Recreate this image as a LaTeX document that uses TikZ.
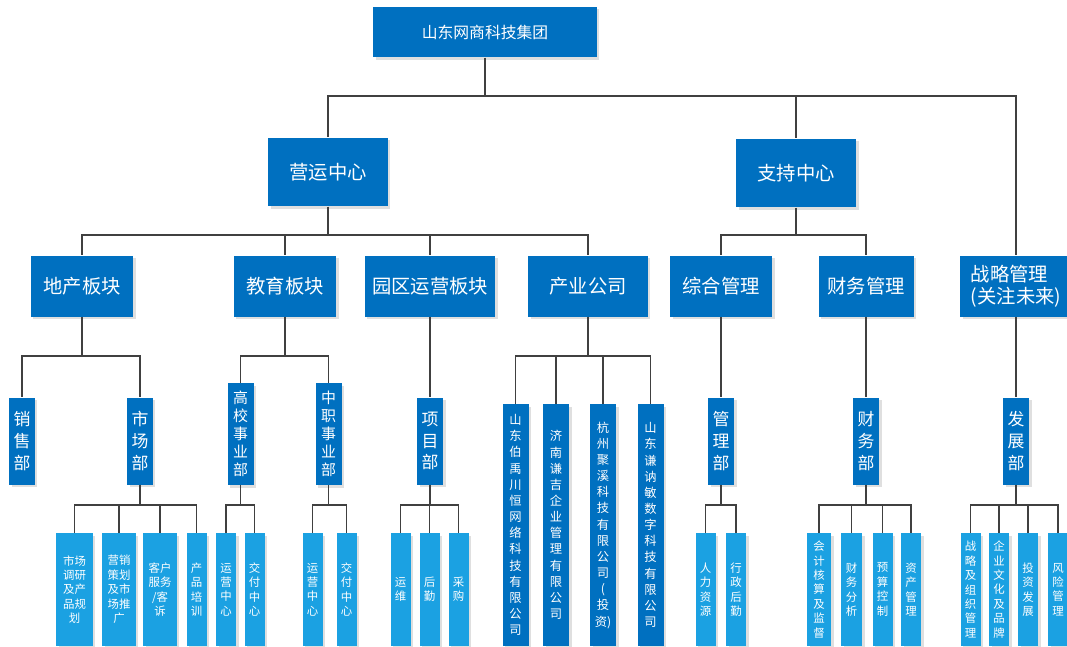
\documentclass[tikz,border=0pt]{standalone}
\usepackage{fontspec}
\setmainfont{Noto Sans CJK SC}
\usetikzlibrary{shadows}
\begin{document}
\begin{tikzpicture}[x=0.02cm, y=-0.02cm]

\definecolor{dcolor}{HTML}{0070C0}
\definecolor{lcolor}{HTML}{1BA1E2}
\definecolor{wcolor}{HTML}{404040}

\tikzstyle{conn}=[line width=0.7pt, color=wcolor]
\tikzstyle{orgbox}=[fill=dcolor, text=white, inner sep=0pt, align=center,
    drop shadow={opacity=0.25, shadow xshift=0.05cm, shadow yshift=-0.05cm}]
\tikzstyle{topbox}=[orgbox, minimum width=4.48cm, minimum height=1.02cm, font=\fontsize{9}{11}\selectfont]
\tikzstyle{centrebox}=[orgbox, minimum width=2.4cm, minimum height=1.38cm, font=\fontsize{11}{13}\selectfont]
\tikzstyle{segbox}=[orgbox, minimum height=1.22cm, font=\fontsize{11}{12.3}\selectfont]
\tikzstyle{deptbox}=[orgbox, minimum width=0.52cm, minimum height=1.74cm, font=\fontsize{9.6}{12.3}\selectfont]
\tikzstyle{unitbox}=[orgbox, minimum width=0.52cm, minimum height=2.04cm, font=\fontsize{8.5}{10.2}\selectfont]
\tikzstyle{firmbox}=[orgbox, minimum width=0.52cm, minimum height=4.84cm, font=\fontsize{7}{9.2}\selectfont]
\tikzstyle{leafbox}=[orgbox, fill=lcolor, minimum width=0.4cm, minimum height=2.26cm, font=\fontsize{6.5}{8.2}\selectfont]

\useasboundingbox (0,0) rectangle (1067,646);
\clip (0,0) rectangle (1067,646);

% bars
\coordinate (b0) at (0,96);
\coordinate (b1) at (0,235);
\coordinate (b2) at (0,356);
\coordinate (b3) at (0,505);

% group and centres
\node[topbox] (grp) at (485,32) {山东网商科技集团};
\node[centrebox] (yy) at (328,172) {营运中心};
\node[centrebox] (zc) at (796,173) {支持中心};

% segments
\node[segbox, minimum width=2.06cm] (dc) at (82,286) {地产板块};
\node[segbox, minimum width=2.06cm] (jy) at (285,286) {教育板块};
\node[segbox, minimum width=2.62cm] (yq) at (430,286) {园区运营板块};
\node[segbox, minimum width=2.4cm] (cy) at (588,286) {产业公司};
\node[segbox, minimum width=2.04cm] (zh) at (721,286) {综合管理};
\node[segbox, minimum width=1.9cm] (cw) at (866,286) {财务管理};
\node[segbox, minimum width=2.24cm, align=left] (zl) at (1016,286) {战略管理\\(关注未来)};

% departments
\node[deptbox] (xs) at (22,441) {销\\售\\部};
\node[deptbox] (sc) at (140,441) {市\\场\\部};
\node[unitbox] (gx) at (240.5,434) {高\\校\\事\\业\\部};
\node[unitbox] (zz) at (328.5,434) {中\\职\\事\\业\\部};
\node[deptbox] (xm) at (430,441) {项\\目\\部};
\node[deptbox] (gl) at (721,441) {管\\理\\部};
\node[deptbox] (cwb) at (866,441) {财\\务\\部};
\node[deptbox] (fz) at (1016,441) {发\\展\\部};

% companies
\node[firmbox] (c1) at (515.5,525) {山\\东\\伯\\禹\\川\\恒\\网\\络\\科\\技\\有\\限\\公\\司};
\node[firmbox] (c2) at (556,525) {济\\南\\谦\\吉\\企\\业\\管\\理\\有\\限\\公\\司};
\node[firmbox] (c3) at (603,525) {杭\\州\\聚\\溪\\科\\技\\有\\限\\公\\司\\(\\投\\资)};
\node[firmbox] (c4) at (650.5,525) {山\\东\\谦\\讷\\敏\\数\\字\\科\\技\\有\\限\\公\\司};

% leaves
\node[leafbox, minimum width=0.74cm] (m1) at (74.5,589.5) {市场\\调研\\及产\\品规\\划};
\node[leafbox, minimum width=0.68cm] (m2) at (119,589.5) {营销\\策划\\及市\\场推\\广};
\node[leafbox, minimum width=0.68cm] (m3) at (160,589.5) {客户\\服务\\/客\\诉};
\node[leafbox] (m4) at (196.5,589.5) {产\\品\\培\\训};
\node[leafbox] (g1) at (226,589.5) {运\\营\\中\\心};
\node[leafbox] (g2) at (254.5,589.5) {交\\付\\中\\心};
\node[leafbox] (z1) at (312.5,589.5) {运\\营\\中\\心};
\node[leafbox] (z2) at (346.5,589.5) {交\\付\\中\\心};
\node[leafbox] (x1) at (400.5,589.5) {运\\维};
\node[leafbox] (x2) at (429.5,589.5) {后\\勤};
\node[leafbox] (x3) at (458.5,589.5) {采\\购};
\node[leafbox] (r1) at (705.5,589.5) {人\\力\\资\\源};
\node[leafbox] (r2) at (736,589.5) {行\\政\\后\\勤};
\node[leafbox, minimum width=0.48cm] (f1) at (819,589.5) {会\\计\\核\\算\\及\\监\\督};
\node[leafbox, minimum width=0.42cm] (f2) at (851.5,589.5) {财\\务\\分\\析};
\node[leafbox] (f3) at (882.5,589.5) {预\\算\\控\\制};
\node[leafbox] (f4) at (911,589.5) {资\\产\\管\\理};
\node[leafbox] (d1) at (970.5,589.5) {战\\略\\及\\组\\织\\管\\理};
\node[leafbox] (d2) at (999,589.5) {企\\业\\文\\化\\及\\品\\牌};
\node[leafbox] (d3) at (1028,589.5) {投\\资\\发\\展};
\node[leafbox] (d4) at (1058,589.5) {风\\险\\管\\理};

% connectors
\foreach \c in {yy,zc,zl}
    \draw[conn] (grp.south) -- (grp.south |- b0) -| (\c.north);
\foreach \c in {dc,jy,yq,cy}
    \draw[conn] (yy.south) -- (yy.south |- b1) -| (\c.north);
\foreach \c in {zh,cw}
    \draw[conn] (zc.south) -- (zc.south |- b1) -| (\c.north);
\foreach \p/\c in {dc/xs, dc/sc, jy/gx, jy/zz, yq/xm, cy/c1, cy/c2, cy/c3, cy/c4, zh/gl, cw/cwb, zl/fz}
    \draw[conn] (\p.south) -- (\p.south |- b2) -| (\c.north);
\foreach \p/\c in {sc/m1, sc/m2, sc/m3, sc/m4, gx/g1, gx/g2, zz/z1, zz/z2, xm/x1, xm/x2, xm/x3,
    gl/r1, gl/r2, cwb/f1, cwb/f2, cwb/f3, cwb/f4, fz/d1, fz/d2, fz/d3, fz/d4}
    \draw[conn] (\p.south) -- (\p.south |- b3) -| (\c.north);

\end{tikzpicture}
\end{document}
